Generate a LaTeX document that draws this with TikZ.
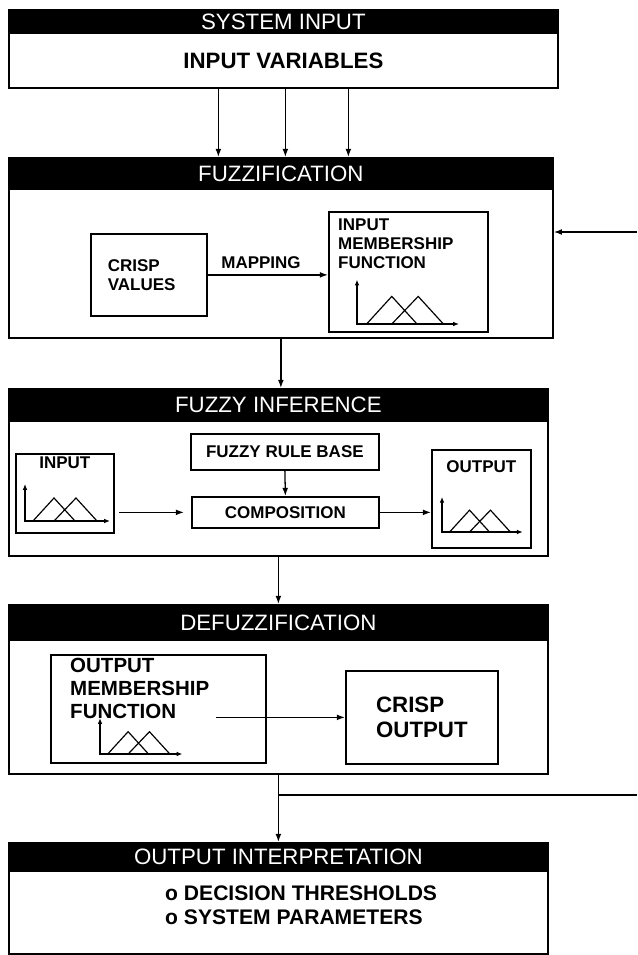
\documentclass[tikz,border=0pt]{standalone}
\usepackage{fontspec}
\setmainfont{Liberation Sans}
\usetikzlibrary{arrows.meta, positioning, calc}
\newlength{\unitpx}
\setlength{\unitpx}{0.03cm}

\begin{document}
\begin{tikzpicture}[
    x=0.03cm, y=-0.03cm,
    header/.style={
        rectangle,
        anchor=north west,
        inner sep=0pt,
        fill=black,
        draw=black,
        line width=1.5pt,
        text=white,
        font=\fontsize{19}{21}\selectfont
    },
    panel/.style={
        rectangle,
        anchor=north west,
        inner sep=0pt,
        draw=black,
        line width=1.5pt
    },
    lbl/.style={
        inner sep=0pt,
        align=left,
        font=\bfseries\fontsize{14.5}{16}\selectfont
    },
    biglbl/.style={
        inner sep=0pt,
        align=left,
        font=\bfseries\fontsize{17.5}{19.5}\selectfont
    },
    arrow/.style={
        -{Latex[length=7pt,width=5pt]},
        line width=1.1pt
    },
    axis/.style={
        {Latex[length=5pt,width=4pt]}-{Latex[length=5pt,width=4pt]},
        line width=1pt
    },
    mf/.pic={
        \draw[axis] (0,-37) -- (0,0) -- (85,0);
        \draw[line width=1pt] (8,0) -- (29,-23) -- (50,0) (29,0) -- (51,-23) -- (72,0);
    }
]
\useasboundingbox (0,0) rectangle (637,955);

% System input
\node[header, minimum width=549\unitpx, minimum height=23\unitpx] (sysHead) at (8,9) {SYSTEM INPUT};
\node[panel, minimum width=549\unitpx, minimum height=55\unitpx, font=\bfseries\fontsize{19}{21}\selectfont] (sysBox) at (8,32) {INPUT VARIABLES};

% Fuzzification
\node[header, minimum width=544\unitpx, minimum height=31\unitpx] (fuzHead) at (8,157) {FUZZIFICATION};
\node[panel, minimum width=544\unitpx, minimum height=149\unitpx] (fuzBox) at (8,188) {};
\node[panel, lbl, minimum width=116\unitpx, minimum height=82\unitpx, text width=82\unitpx] (crisp) at (90,233) {CRISP\\VALUES};
\node[lbl] (mapLbl) at (261,263) {MAPPING};
\node[panel, minimum width=159\unitpx, minimum height=120\unitpx] (inMF) at (328,211) {};
\node[lbl, anchor=north west] (inMFtxt) at ($(inMF.north west)+(10,8)$) {INPUT\\MEMBERSHIP\\FUNCTION};
\pic[scale=1.2] at (357,324) {mf};

% Fuzzy inference
\node[header, minimum width=539\unitpx, minimum height=32\unitpx] (infHead) at (8,388) {FUZZY INFERENCE};
\node[panel, minimum width=539\unitpx, minimum height=135\unitpx] (infBox) at (8,420) {};
\node[panel, minimum width=98\unitpx, minimum height=79\unitpx] (inSet) at (15,453) {};
\node[lbl] (inSetTxt) at ($(inSet.north)+(0,10)$) {INPUT};
\pic at (25,521) {mf};
\node[panel, lbl, minimum width=188\unitpx, minimum height=36\unitpx] (ruleBase) at (190,433) {FUZZY RULE BASE};
\node[panel, lbl, minimum width=187\unitpx, minimum height=31\unitpx] (compose) at (191,496) {COMPOSITION};
\node[panel, minimum width=99\unitpx, minimum height=98\unitpx] (outSet) at (431,449) {};
\node[lbl] (outSetTxt) at ($(outSet.north)+(0,18)$) {OUTPUT};
\pic[scale=0.95] at (442,532) {mf};

% Defuzzification
\node[header, minimum width=539\unitpx, minimum height=35\unitpx] (defHead) at (8,604) {DEFUZZIFICATION};
\node[panel, minimum width=539\unitpx, minimum height=134\unitpx] (defBox) at (8,639) {};
\node[panel, minimum width=215\unitpx, minimum height=108\unitpx] (outMF) at (50,654) {};
\node[biglbl, anchor=north west] (outMFtxt) at ($(outMF.north west)+(20,4)$) {OUTPUT\\MEMBERSHIP\\FUNCTION};
\pic[scale=0.97] at (100,754) {mf};
\node[panel, biglbl, minimum width=152\unitpx, minimum height=93\unitpx, font=\bfseries\fontsize{19}{21}\selectfont] (crispOut) at (345,670) {CRISP\\OUTPUT};

% Output interpretation
\node[header, minimum width=539\unitpx, minimum height=28\unitpx] (outHead) at (8,842) {OUTPUT INTERPRETATION};
\node[panel, minimum width=539\unitpx, minimum height=83\unitpx] (outBox) at (8,870) {};
\node[anchor=west, inner sep=0pt, align=left, font=\bfseries\fontsize{18}{20.5}\selectfont] (params) at (165,905) {o DECISION THRESHOLDS\\o SYSTEM PARAMETERS};

% Feedback ends
\coordinate (fbIn) at (637,232);
\coordinate (fbOut) at (637,795);

% Arrows
\draw[arrow] ([xshift=-65\unitpx]sysBox.south) -- ([xshift=-65\unitpx]sysBox.south |- fuzHead.north);
\draw[arrow] ([xshift=2\unitpx]sysBox.south) -- ([xshift=2\unitpx]sysBox.south |- fuzHead.north);
\draw[arrow] ([xshift=65\unitpx]sysBox.south) -- ([xshift=65\unitpx]sysBox.south |- fuzHead.north);
\draw[arrow] (crisp.east) -- (crisp.east -| inMF.west);
\draw[arrow] (fbIn) -- (fbIn -| fuzBox.east);
\draw[arrow] (fuzBox.south) -- (fuzBox.south |- infHead.north);
\draw[arrow, shorten <=4pt, shorten >=6pt] (inSet.east |- compose.west) -- (compose.west);
\draw[arrow] (ruleBase.south) -- (compose.north);
\draw[arrow] (compose.east) -- (compose.east -| outSet.west);
\draw[arrow] (infBox.south) -- (infBox.south |- defHead.north);
\draw[arrow] ([xshift=-51\unitpx]outMF.east |- crispOut.west) -- (crispOut.west);
\draw[arrow] (defBox.south) -- (defBox.south |- outHead.north);
\draw[line width=1.1pt] (defBox.south |- fbOut) -- (fbOut);

\end{tikzpicture}
\end{document}
